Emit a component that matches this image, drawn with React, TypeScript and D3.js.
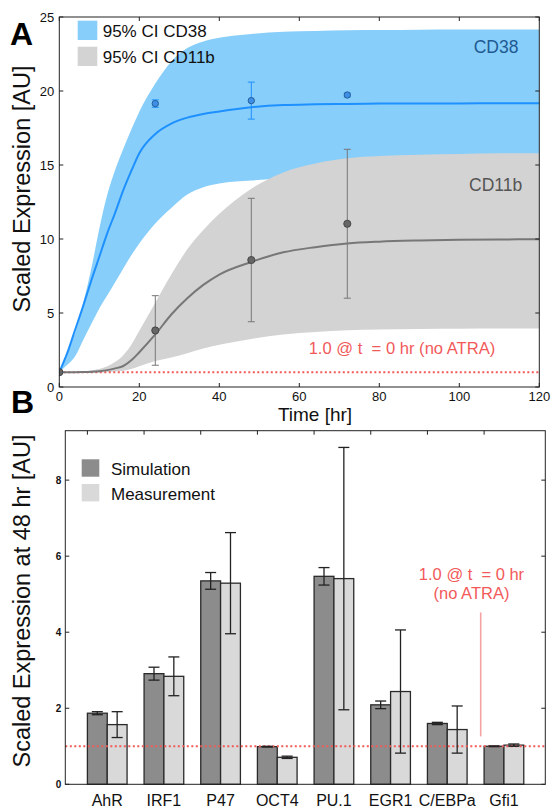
import React from "react";
import * as d3 from "d3";

const W = 552;
const H = 809;
const SANS = "'Liberation Sans', Arial, Helvetica, sans-serif";

// Panel A: model fits (hr -> scaled expression)
const timeGrid = [0, 2, 4, 6, 8, 10, 12, 14, 16, 18, 20, 24, 28, 32, 36, 40, 48, 56, 64, 72, 80, 90, 100, 110, 120];
const cd38Mean = [1, 2.3, 3.9, 5.5, 7.2, 8.8, 10.4, 11.8, 13.3, 14.6, 15.8, 17.1, 17.8, 18.2, 18.45, 18.62, 18.9, 19.05, 19.1, 19.13, 19.15, 19.16, 19.16, 19.17, 19.17];
const cd38Upper = [1, 2.3, 3.7, 5.7, 8.0, 10.7, 13.0, 14.7, 16.1, 17.4, 18.6, 20.5, 22.0, 22.9, 23.35, 23.6, 23.85, 24.0, 24.05, 24.1, 24.12, 24.14, 24.15, 24.16, 24.16];
const cd38Lower = [1, 1.5, 2.1, 3.2, 4.25, 5.3, 6.2, 7.1, 8.0, 8.9, 9.7, 11.05, 12.1, 13.0, 13.5, 13.75, 13.95, 14.1, 14.2, 14.3, 14.35, 14.4, 14.45, 14.45, 14.5];
const cd11bMean = [1, 1.0, 1.0, 1.01, 1.03, 1.07, 1.14, 1.26, 1.42, 1.8, 2.35, 3.55, 4.9, 6.0, 6.9, 7.6, 8.45, 9.1, 9.45, 9.7, 9.82, 9.9, 9.95, 9.97, 9.98];
const cd11bUpper = [1, 1.0, 1.02, 1.06, 1.12, 1.22, 1.4, 1.7, 2.15, 2.85, 3.8, 5.7, 7.6, 9.3, 10.6, 11.7, 13.4, 14.5, 15.1, 15.45, 15.6, 15.7, 15.75, 15.8, 15.8];
const cd11bLower = [1, 0.98, 0.97, 0.97, 0.97, 0.98, 1.0, 1.04, 1.1, 1.22, 1.4, 1.75, 2.0, 2.28, 2.6, 2.85, 3.25, 3.55, 3.72, 3.83, 3.88, 3.92, 3.94, 3.95, 3.96];

// Panel A: measurements
const sampleTimes = [0, 24, 48, 72];
const cd38Obs = [1, 19.15, 19.35, 19.73];
const cd38ObsErr = [0, 0.25, 1.25, 0.12];
const cd11bObs = [1, 3.82, 8.58, 11.03];
const cd11bObsErr = [0, 2.35, 4.17, 5.03];

const timeTicks = [0, 20, 40, 60, 80, 100, 120];
const exprTicksA = [0, 5, 10, 15, 20, 25];

// Panel B: expression at 48 hr
const genes = ["AhR", "IRF1", "P47", "OCT4", "PU.1", "EGR1", "C/EBPa", "Gfi1"];
const simValues = [1.87, 2.91, 5.35, 0.99, 5.47, 2.09, 1.6, 1.0];
const simErrors = [0.04, 0.17, 0.22, 0.01, 0.23, 0.1, 0.03, 0.01];
const measValues = [1.57, 2.84, 5.29, 0.71, 5.41, 2.44, 1.44, 1.03];
const measErrors = [0.34, 0.51, 1.33, 0.03, 3.45, 1.62, 0.62, 0.03];
const exprTicksB = [0, 2, 4, 6, 8];

const BLUE_BAND = "#87cefa";
const BLUE_LINE = "#1e90ff";
const GRAY_BAND = "#d3d3d3";
const GRAY_LINE = "#777777";
const RED = "#f25a5a";

const baseline = 1.0;

type Row = { t: number; m: number; lo: number; hi: number };

const ErrBar = ({ x, y0, y1, cap, color, width = 1 }: any) => (
  <g stroke={color} strokeWidth={width}>
    <line x1={x} x2={x} y1={y0} y2={y1} />
    <line x1={x - cap} x2={x + cap} y1={y0} y2={y0} />
    <line x1={x - cap} x2={x + cap} y1={y1} y2={y1} />
  </g>
);

const PanelA = () => {
  const x = d3.scaleLinear().domain([0, 120]).range([59.3, 539.3]);
  const y = d3.scaleLinear().domain([0, 25]).range([387, 17]);
  const [x0, x1] = x.range();
  const [yb, yt] = y.range();

  const cd38: Row[] = timeGrid.map((t, i) => ({ t, m: cd38Mean[i], lo: cd38Lower[i], hi: cd38Upper[i] }));
  const cd11b: Row[] = timeGrid.map((t, i) => ({ t, m: cd11bMean[i], lo: cd11bLower[i], hi: cd11bUpper[i] }));

  const band = d3
    .area<Row>()
    .x((d) => x(d.t))
    .y0((d) => y(d.lo))
    .y1((d) => y(d.hi))
    .curve(d3.curveMonotoneX);
  const line = d3
    .line<Row>()
    .x((d) => x(d.t))
    .y((d) => y(d.m))
    .curve(d3.curveMonotoneX);

  return (
    <g>
      <defs>
        <clipPath id="clipA">
          <rect x={x0} y={yt} width={x1 - x0} height={yb - yt} />
        </clipPath>
      </defs>
      <g clipPath="url(#clipA)">
        <path d={band(cd38) || ""} fill={BLUE_BAND} />
        <path d={band(cd11b) || ""} fill={GRAY_BAND} />
        <line x1={x0} x2={x1} y1={y(baseline)} y2={y(baseline)} stroke={RED} strokeWidth={2} strokeDasharray="2 2.5" />
        <path d={line(cd38) || ""} fill="none" stroke={BLUE_LINE} strokeWidth={2} />
        <path d={line(cd11b) || ""} fill="none" stroke={GRAY_LINE} strokeWidth={2} />
        {sampleTimes.map((t, i) =>
          cd38ObsErr[i] > 0 ? (
            <ErrBar key={"e38" + i} x={x(t)} y0={y(cd38Obs[i] + cd38ObsErr[i])} y1={y(cd38Obs[i] - cd38ObsErr[i])} cap={3.5} color={BLUE_LINE} />
          ) : null
        )}
        {sampleTimes.map((t, i) => (
          <circle key={"p38" + i} cx={x(t)} cy={y(cd38Obs[i])} r={3.2} fill="#3f8fe6" stroke="#1c4f86" strokeWidth={0.8} />
        ))}
        {sampleTimes.map((t, i) =>
          cd11bObsErr[i] > 0 ? (
            <ErrBar key={"e11" + i} x={x(t)} y0={y(cd11bObs[i] + cd11bObsErr[i])} y1={y(cd11bObs[i] - cd11bObsErr[i])} cap={3.5} color="#777" />
          ) : null
        )}
        {sampleTimes.map((t, i) => (
          <circle key={"p11" + i} cx={x(t)} cy={y(cd11bObs[i])} r={3.6} fill="#666" stroke="#3a3a3a" strokeWidth={0.8} />
        ))}
      </g>

      {/* frame and inward ticks */}
      <rect x={x0} y={yt} width={x1 - x0} height={yb - yt} fill="none" stroke="#222" strokeWidth={1} />
      {timeTicks.map((t) => (
        <g key={"xt" + t} stroke="#222">
          <line x1={x(t)} x2={x(t)} y1={yb} y2={yb - 4} />
          <line x1={x(t)} x2={x(t)} y1={yt} y2={yt + 4} />
        </g>
      ))}
      {exprTicksA.map((v) => (
        <g key={"yt" + v} stroke="#222">
          <line x1={x0} x2={x0 + 4} y1={y(v)} y2={y(v)} />
          <line x1={x1} x2={x1 - 4} y1={y(v)} y2={y(v)} />
        </g>
      ))}
      <g fontFamily={SANS} fontSize={13} fill="#111">
        {timeTicks.map((t) => (
          <text key={"xl" + t} x={x(t)} y={yb + 13.5} textAnchor="middle">{t}</text>
        ))}
        {exprTicksA.map((v) => (
          <text key={"yl" + v} x={x0 - 5} y={y(v) + 4.5} textAnchor="end">{v}</text>
        ))}
      </g>

      <text x={315} y={421} fontFamily={SANS} fontSize={19} textAnchor="middle" fill="#111">Time [hr]</text>
      <text transform={`translate(30,${189}) rotate(-90)`} fontFamily={SANS} fontSize={23.5} textAnchor="middle" fill="#111">
        Scaled Expression [AU]
      </text>

      {/* legend */}
      <rect x={77.7} y={20.7} width={19.6} height={19.3} fill={BLUE_BAND} />
      <rect x={77.7} y={46.7} width={19.6} height={19.3} fill={GRAY_BAND} />
      <g fontFamily={SANS} fontSize={17} fill="#111">
        <text x={102.7} y={36.5}>95% CI CD38</text>
        <text x={102.7} y={62.5}>95% CI CD11b</text>
      </g>

      <text x={496} y={53} fontFamily={SANS} fontSize={17.5} textAnchor="middle" fill="#1f5a93">CD38</text>
      <text x={495.7} y={190.5} fontFamily={SANS} fontSize={17.5} textAnchor="middle" fill="#555">CD11b</text>
      <text x={402} y={354} fontFamily={SANS} fontSize={16.6} textAnchor="middle" fill={RED} xmlSpace="preserve" style={{ whiteSpace: "pre" }}>
        {"1.0 @ t  = 0 hr (no ATRA)"}
      </text>

      <text x={10} y={45} fontFamily={SANS} fontSize={32} fontWeight="bold" fill="#000">A</text>
    </g>
  );
};

const PanelB = () => {
  const x = d3.scaleLinear().domain([-0.39, 8.08]).range([65.3, 545.3]);
  const y = d3.scaleLinear().domain([0, 9.3]).range([784.3, 430.7]);
  const [x0, x1] = x.range();
  const [yb, yt] = y.range();
  const bw = 0.35;
  const pxW = x(bw) - x(0);

  return (
    <g>
      {genes.map((g, i) => (
        <g key={g} stroke="#2a2a2a" strokeWidth={1.3}>
          <rect x={x(i)} y={y(simValues[i])} width={pxW} height={yb - y(simValues[i])} fill="#8c8c8c" />
          <rect x={x(i + bw)} y={y(measValues[i])} width={pxW} height={yb - y(measValues[i])} fill="#d9d9d9" />
        </g>
      ))}
      <line x1={x0} x2={x1} y1={y(baseline)} y2={y(baseline)} stroke={RED} strokeWidth={2} strokeDasharray="2 2.5" />
      {genes.map((g, i) => (
        <g key={"e" + g}>
          <ErrBar x={x(i + bw / 2)} y0={y(simValues[i] + simErrors[i])} y1={y(simValues[i] - simErrors[i])} cap={5.5} color="#222" width={1.3} />
          <ErrBar x={x(i + bw * 1.5)} y0={y(measValues[i] + measErrors[i])} y1={y(measValues[i] - measErrors[i])} cap={5.5} color="#222" width={1.3} />
        </g>
      ))}

      {/* annotation for untreated baseline */}
      <line x1={x(6.94)} x2={x(6.94)} y1={y(1.26)} y2={y(4.52)} stroke="#f4a3a3" strokeWidth={1.6} />
      <g fontFamily={SANS} fontSize={16.5} fill={RED} textAnchor="middle">
        <text x={471.5} y={580} xmlSpace="preserve" style={{ whiteSpace: "pre" }}>{"1.0 @ t  = 0 hr"}</text>
        <text x={471.5} y={599}>(no ATRA)</text>
      </g>

      <rect x={x0} y={yt} width={x1 - x0} height={yb - yt} fill="none" stroke="#222" strokeWidth={1} />
      {genes.map((g, i) => (
        <line key={"tt" + g} x1={x(i)} x2={x(i)} y1={yt} y2={yt + 4} stroke="#222" />
      ))}
      {exprTicksB.map((v) => (
        <g key={"yt" + v} stroke="#222">
          <line x1={x0} x2={x0 + 4} y1={y(v)} y2={y(v)} />
          <line x1={x1} x2={x1 - 4} y1={y(v)} y2={y(v)} />
        </g>
      ))}
      <g fontFamily={SANS} fontSize={10} fontWeight="bold" fill="#111">
        {exprTicksB.map((v) => (
          <text key={"yl" + v} x={x0 - 4} y={y(v) + 3.5} textAnchor="end">{v}</text>
        ))}
      </g>
      <g fontFamily={SANS} fontSize={16} fill="#111">
        {genes.map((g, i) => (
          <text key={"xl" + g} x={x(i + bw)} y={806} textAnchor="middle">{g}</text>
        ))}
      </g>
      <text transform={`translate(30,${601}) rotate(-90)`} fontFamily={SANS} fontSize={23.5} textAnchor="middle" fill="#111">
        Scaled Expression at 48 hr [AU]
      </text>

      {/* legend */}
      <rect x={81.7} y={459.3} width={17.6} height={17.4} fill="#8c8c8c" />
      <rect x={81.7} y={484} width={17.6} height={17.4} fill="#d9d9d9" />
      <g fontFamily={SANS} fontSize={17} fill="#111">
        <text x={111} y={474.5}>Simulation</text>
        <text x={111} y={499.5}>Measurement</text>
      </g>

      <text x={11} y={413} fontFamily={SANS} fontSize={32} fontWeight="bold" fill="#000">B</text>
    </g>
  );
};

export default function App() {
  return (
    <svg
      width={W}
      height={H}
      viewBox={`0 0 ${W} ${H}`}
      style={{ position: "absolute", left: 0, top: 0, background: "#fff", display: "block" }}
    >
      <rect width={W} height={H} fill="#fff" />
      <PanelA />
      <PanelB />
    </svg>
  );
}
